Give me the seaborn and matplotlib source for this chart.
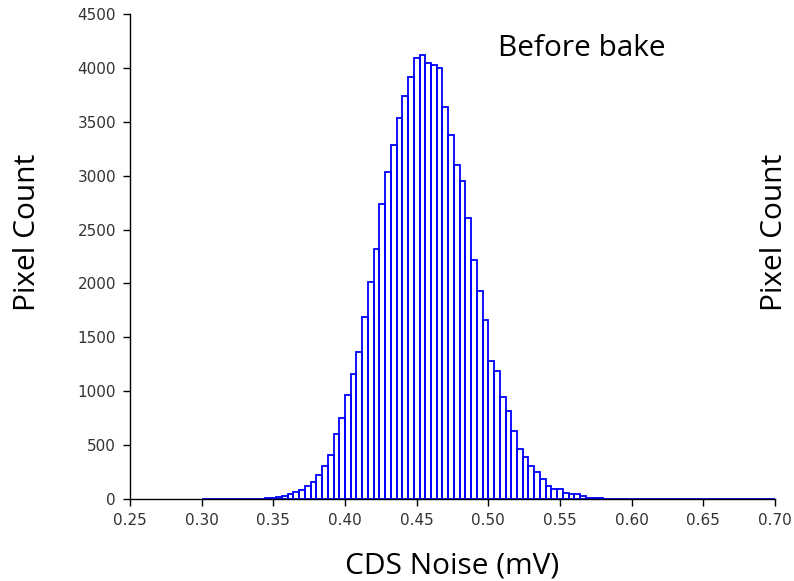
import numpy as np
import pandas as pd
import matplotlib.pyplot as plt
import seaborn as sns

sns.set_theme(style='white')
plt.rcParams['font.family'] = ['DejaVu Sans']

# Histogram bins (0.004 mV wide from 0.30 to 0.70 mV) and pixel counts
bin_edges = [round(0.30 + 0.004 * i, 4) for i in range(101)]
pixel_counts = [
    0, 0, 0, 0, 0, 0, 0, 0, 0, 0,
    0, 8, 10, 15, 30, 50, 68, 83, 123, 160,
    222, 305, 407, 605, 756, 963, 1164, 1361, 1685, 2009,
    2322, 2740, 3038, 3280, 3537, 3741, 3911, 4093, 4118, 4044,
    4028, 4003, 3639, 3378, 3102, 2948, 2608, 2213, 1929, 1658,
    1281, 1188, 950, 815, 633, 463, 392, 306, 247, 185,
    123, 93, 90, 53, 43, 43, 28, 12, 8, 5,
    0, 0, 3, 3, 0, 0, 2, 0, 0, 0,
    2, 0, 2, 0, 0, 0, 0, 0, 2, 0,
    0, 0, 2, 0, 0, 0, 0, 0, 0, 0,
]
x_ticks = [0.25, 0.30, 0.35, 0.40, 0.45, 0.50, 0.55, 0.60, 0.65, 0.70]
y_ticks = list(range(0, 5000, 500))

df = pd.DataFrame({
    'noise': [(a + b) / 2 for a, b in zip(bin_edges[:-1], bin_edges[1:])],
    'count': pixel_counts,
})

fig = plt.figure(figsize=(7.94, 5.81), dpi=100)
ax = fig.add_axes([130 / 794, 82 / 581, 645 / 794, 485 / 581])

sns.histplot(data=df, x='noise', weights='count', bins=bin_edges,
             element='bars', fill=False, color='#0000ff', linewidth=1.3, ax=ax)

ax.set_xlim(0.25, 0.70)
ax.set_ylim(0, 4500)
ax.set_xticks(x_ticks)
ax.set_xticklabels([f'{t:.2f}' for t in x_ticks])
ax.set_yticks(y_ticks)
ax.set_xlabel('')
ax.set_ylabel('')
ax.tick_params(axis='both', direction='out', length=5, width=1, color='black',
               labelsize=11, labelcolor='#333333', bottom=True, left=True)
ax.tick_params(axis='x', pad=5)
ax.tick_params(axis='y', pad=5)
for side in ['top', 'right']:
    ax.spines[side].set_visible(False)
for side in ['left', 'bottom']:
    ax.spines[side].set_color('black')
    ax.spines[side].set_linewidth(1)

label_font = dict(family='Open Sans', size=21.5, color='black')
fig.text(28 / 794, 1 - 232 / 581, 'Pixel Count', rotation=90, ha='center', va='center', **label_font)
fig.text(775 / 794, 1 - 232 / 581, 'Pixel Count', rotation=90, ha='center', va='center', **label_font)
fig.text(452 / 794, 1 - 573 / 581, 'CDS Noise (mV)', ha='center', va='baseline', **label_font)
fig.text(582 / 794, 1 - 56 / 581, 'Before bake', ha='center', va='baseline', **label_font)

fig.savefig('out.png', dpi=100)
